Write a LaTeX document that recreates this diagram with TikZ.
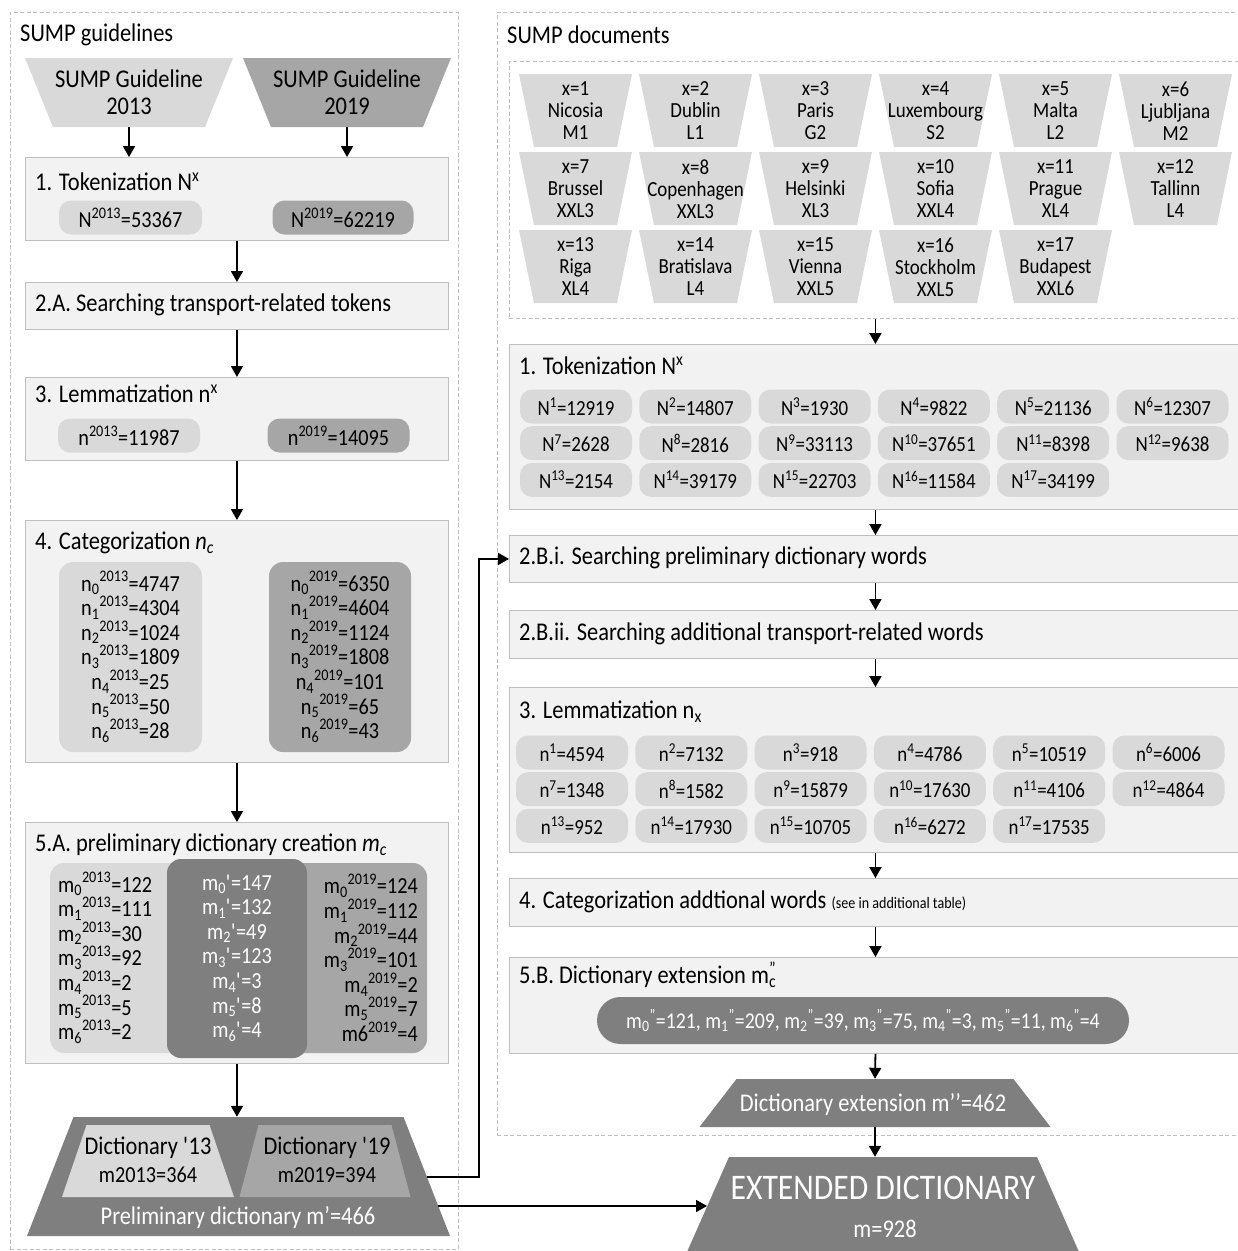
\documentclass[tikz,border=0pt]{standalone}
\usepackage{fontspec}
\setmainfont{Carlito}[FakeStretch=0.88]
\usetikzlibrary{arrows.meta,calc}
\definecolor{boxfill}{HTML}{F2F2F2}
\definecolor{boxline}{HTML}{BFBFBF}
\definecolor{gA}{HTML}{D9D9D9}
\definecolor{gB}{HTML}{A6A6A6}
\definecolor{gC}{HTML}{7F7F7F}
\definecolor{dashc}{HTML}{BFBFBF}
\newcommand\tpz[6]{\fill[#6] ({#1-#4},#2) -- ({#1+#4},#2) -- ({#1+#5},#3) -- ({#1-#5},#3) -- cycle;}
\newcommand\ssp[3]{#1\textsubscript{#2}\textsuperscript{#3}}
\begin{document}
\begin{tikzpicture}[x=1pt,y=-1pt,
  fA/.style={font=\fontsize{25.5}{27}\selectfont},
  fB/.style={font=\fontsize{23}{24.6}\selectfont},
  fC/.style={font=\fontsize{21.5}{22}\selectfont},
  panel/.style={draw=boxline, fill=boxfill, line width=0.9pt, inner sep=0pt, anchor=north west},
  pill/.style={rounded corners=12pt, inner sep=0pt, minimum height=34pt},
  bigbox/.style={rounded corners=14pt, inner sep=0pt},
  arr/.style={-{Triangle[length=11pt,width=12pt]}, line width=1.8pt},
  dashbox/.style={draw=dashc, dash pattern=on 4pt off 2.5pt, line width=0.8pt, inner sep=0pt, anchor=north west},
  lbl/.style={anchor=west, inner sep=0pt},
]
\useasboundingbox (0,0) rectangle (1238,1251);
\fill[white] (0,0) rectangle (1238,1251);

% ---------- dashed panels ----------
\node[dashbox, minimum width=448pt, minimum height=1237pt] (Lpanel) at (10,12) {};
\node[dashbox, minimum width=750pt, minimum height=1123pt] (Rpanel) at (497,12) {};
\node[dashbox, minimum width=740pt, minimum height=257pt] (docs) at (509,61) {};
\node[lbl, fA] (Ltitle) at (20,35) {SUMP guidelines};
\node[lbl, fA] (Rtitle) at (507,35) {SUMP documents};

% ---------- left column ----------
\tpz{129}{58}{127}{104}{76}{gA}
\node[fA, align=center, inner sep=0pt, minimum width=150pt, minimum height=69pt] (g13) at (129,92.5) {SUMP Guideline\\2013};
\tpz{347}{58}{127}{104}{76}{gB}
\node[fA, align=center, inner sep=0pt, minimum width=150pt, minimum height=69pt] (g19) at (347,92.5) {SUMP Guideline\\2019};

\node[panel, minimum width=423pt, minimum height=83pt] (tok1) at (25,157) {};
\node[lbl, fA] (tok1t) at (35,182) {1. Tokenization N\textsuperscript{x}};
\node[pill, fill=gA, fB, minimum width=143pt] (N13) at (130.5,217.5) {N\textsuperscript{2013}=53367};
\node[pill, fill=gB, fB, minimum width=141pt] (N19) at (343,217.5) {N\textsuperscript{2019}=62219};

\node[panel, minimum width=423pt, minimum height=47pt] (srA) at (25,282) {};
\node[lbl, fA] (srAt) at (35,305) {2.A. Searching transport-related tokens};

\node[panel, minimum width=423pt, minimum height=83pt] (lem1) at (25,377) {};
\node[lbl, fA] (lem1t) at (35,394) {3. Lemmatization n\textsuperscript{x}};
\node[pill, fill=gA, fB, minimum width=142pt] (n13) at (129,435.5) {n\textsuperscript{2013}=11987};
\node[pill, fill=gB, fB, minimum width=142pt] (n19) at (338.5,435.5) {n\textsuperscript{2019}=14095};

\node[panel, minimum width=423pt, minimum height=242pt] (cat1) at (25,520) {};
\node[lbl, fA] (cat1t) at (35,543) {4. Categorization \textit{n\textsubscript{c}}};
\node[bigbox, fill=gA, fB, align=center, minimum width=143pt, minimum height=190pt] (catL) at (130.5,657) {%
\ssp{n}{0}{2013}=4747\\\ssp{n}{1}{2013}=4304\\\ssp{n}{2}{2013}=1024\\\ssp{n}{3}{2013}=1809\\\ssp{n}{4}{2013}=25\\\ssp{n}{5}{2013}=50\\\ssp{n}{6}{2013}=28};
\node[bigbox, fill=gB, fB, align=center, minimum width=142pt, minimum height=190pt] (catR) at (340,657) {%
\ssp{n}{0}{2019}=6350\\\ssp{n}{1}{2019}=4604\\\ssp{n}{2}{2019}=1124\\\ssp{n}{3}{2019}=1808\\\ssp{n}{4}{2019}=101\\\ssp{n}{5}{2019}=65\\\ssp{n}{6}{2019}=43};

\node[panel, minimum width=423pt, minimum height=241pt] (pre1) at (25,822) {};
\node[lbl, fA] (pre1t) at (35,845) {5.A. preliminary dictionary creation \textit{m\textsubscript{c}}};
\node[bigbox, fill=gA, minimum width=250pt, minimum height=190pt] (m13box) at (175,958) {};
\node[bigbox, fill=gB, minimum width=247pt, minimum height=190pt] (m19box) at (303.5,958) {};
\node[bigbox, fill=gC, minimum width=140pt, minimum height=199pt] (mpbox) at (237,958.5) {};
\node[fB, align=left, anchor=west, inner sep=0pt] (m13t) at (58,958) {%
\ssp{m}{0}{2013}=122\\\ssp{m}{1}{2013}=111\\\ssp{m}{2}{2013}=30\\\ssp{m}{3}{2013}=92\\\ssp{m}{4}{2013}=2\\\ssp{m}{5}{2013}=5\\\ssp{m}{6}{2013}=2};
\node[fB, align=right, anchor=east, inner sep=0pt] (m19t) at (418,958) {%
\ssp{m}{0}{2019}=124\\\ssp{m}{1}{2019}=112\\\ssp{m}{2}{2019}=44\\\ssp{m}{3}{2019}=101\\\ssp{m}{4}{2019}=2\\\ssp{m}{5}{2019}=7\\m6\textsuperscript{2019}=4};
\node[fB, align=center, text=white, inner sep=0pt] (mpt) at (237,958) {%
m\textsubscript{0}\textquotesingle=147\\m\textsubscript{1}\textquotesingle=132\\m\textsubscript{2}\textquotesingle=49\\m\textsubscript{3}\textquotesingle=123\\m\textsubscript{4}\textquotesingle=3\\m\textsubscript{5}\textquotesingle=8\\m\textsubscript{6}\textquotesingle=4};

% preliminary dictionary trapezoid
\tpz{238.5}{1117}{1236}{165}{211.5}{gC}
\tpz{148}{1125}{1197}{61.5}{86}{gA}
\tpz{325}{1125}{1197}{66.5}{85.5}{gB}
\node[inner sep=0pt, minimum width=423pt, minimum height=119pt] (prelim) at (238.5,1176.5) {};
\node[fA, inner sep=0pt] (d13a) at (148,1148) {Dictionary \textquotesingle13};
\node[fB, inner sep=0pt] (d13b) at (148,1175) {m2013=364};
\node[fA, inner sep=0pt] (d19a) at (327,1148) {Dictionary \textquotesingle19};
\node[fB, inner sep=0pt] (d19b) at (327,1175) {m2019=394};
\node[fA, text=white, inner sep=0pt] (prelimt) at (238,1218) {Preliminary dictionary m’=466};
\coordinate (p1) at (426.5,1177);
\coordinate (p2) at (438,1206);

% ---------- right column ----------
\foreach \i/\nm/\sz [count=\k from 0] in {1/Nicosia/M1,2/Dublin/L1,3/Paris/G2,4/Luxembourg/S2,5/Malta/L2,6/Ljubljana/M2,7/Brussel/XXL3,8/Copenhagen/XXL3,9/Helsinki/XL3,10/Sofia/XXL4,11/Prague/XL4,12/Tallinn/L4,13/Riga/XL4,14/Bratislava/L4,15/Vienna/XXL5,16/Stockholm/XXL5,17/Budapest/XXL6}{
  \pgfmathtruncatemacro\col{mod(\k,6)}
  \pgfmathtruncatemacro\row{div(\k,6)}
  \pgfmathsetmacro\cx{575.5+120*\col}
  \pgfmathsetmacro\yt{74+78*\row}
  \tpz{\cx}{\yt}{\yt+73}{56.5}{41.5}{gA}
  \node[fC, align=center, inner sep=0pt] (city\i) at (\cx,\yt+37) {x=\i\\\nm\\\sz};
}

\node[panel, minimum width=732pt, minimum height=165pt] (tokR) at (509,344) {};
\node[lbl, fA] (tokRt) at (519,366) {1. Tokenization N\textsuperscript{x}};
\foreach \v [count=\j] in {12919,14807,1930,9822,21136,12307,2628,2816,33113,37651,8398,9638,2154,39179,22703,11584,34199}{
  \pgfmathtruncatemacro\col{mod(\j-1,6)}
  \pgfmathtruncatemacro\row{div(\j-1,6)}
  \node[pill, fill=gA, fC, minimum width=112pt] (Np\j) at ({576+119.3*\col},{406.5+36.7*\row}) {N\textsuperscript{\j}=\v};
}

\node[panel, minimum width=732pt, minimum height=47pt] (srB1) at (509,535) {};
\node[lbl, fA] (srB1t) at (519,558) {2.B.i. Searching preliminary dictionary words};
\node[panel, minimum width=732pt, minimum height=48pt] (srB2) at (509,610) {};
\node[lbl, fA] (srB2t) at (519,634) {2.B.ii. Searching additional transport-related words};

\node[panel, minimum width=732pt, minimum height=165pt] (lemR) at (509,687) {};
\node[lbl, fA] (lemRt) at (519,712) {3. Lemmatization n\textsubscript{x}};
\foreach \v [count=\j] in {4594,7132,918,4786,10519,6006,1348,1582,15879,17630,4106,4864,952,17930,10705,6272,17535}{
  \pgfmathtruncatemacro\col{mod(\j-1,6)}
  \pgfmathtruncatemacro\row{div(\j-1,6)}
  \node[pill, fill=gA, fC, minimum width=112pt] (np\j) at ({572+119.3*\col},{752.5+36.7*\row}) {n\textsuperscript{\j}=\v};
}

\node[panel, minimum width=732pt, minimum height=48pt] (catRb) at (509,878) {};
\node[lbl, fA] (catRt) at (519,902) {4. Categorization addtional words {\fontsize{16}{18}\selectfont (see in additional table)}};

\node[panel, minimum width=732pt, minimum height=96pt] (extR) at (509,957) {};
\node[lbl, fA] (extRt) at (519,975) {5.B. Dictionary extension m\rlap{\textsubscript{c}}\textsuperscript{"}};
\node[rounded corners=23.5pt, fill=gC, text=white, inner sep=0pt, minimum width=532pt, minimum height=47pt, font=\fontsize{22.5}{24}\selectfont] (mpp) at (863,1020.5) {%
\ssp{m}{0}{"}=121, \ssp{m}{1}{"}=209, \ssp{m}{2}{"}=39, \ssp{m}{3}{"}=75, \ssp{m}{4}{"}=3, \ssp{m}{5}{"}=11, \ssp{m}{6}{"}=4};

\tpz{875}{1079}{1127}{138.5}{175.5}{gC}
\node[inner sep=0pt, minimum width=351pt, minimum height=48pt] (ext) at (875,1103) {};
\node[fA, text=white, inner sep=0pt] (extt) at (873,1105) {Dictionary extension m’’=462};

\tpz{883}{1157}{1270}{154}{204}{gC}
\node[inner sep=0pt, minimum width=308pt, minimum height=94pt] (extd) at (883,1204) {};
\node[text=white, inner sep=0pt, font=\fontsize{36}{40}\selectfont] (extdt) at (883,1188) {EXTENDED DICTIONARY};
\node[fA, text=white, inner sep=0pt] (extdm) at (885,1229) {m=928};
\coordinate (e1) at (707,1206);

% ---------- arrows ----------
\draw[arr] (g13.south) -- (g13.south |- tok1.north);
\draw[arr] (g19.south) -- (g19.south |- tok1.north);
\draw[arr] (tok1.south) -- (srA.north);
\draw[arr] (srA.south) -- (lem1.north);
\draw[arr] (lem1.south) -- (cat1.north);
\draw[arr] (cat1.south) -- (pre1.north);
\draw[arr] (pre1.south) -- (pre1.south |- prelim.north);
\draw[arr] (tokR.north |- docs.south) -- (tokR.north);
\draw[arr] (tokR.south) -- (srB1.north);
\draw[arr] (srB1.south) -- (srB2.north);
\draw[arr] (srB2.south) -- (lemR.north);
\draw[arr] (lemR.south) -- (catRb.north);
\draw[arr] (catRb.south) -- (extR.north);
\draw[arr] (extR.south) -- (ext.north);
\draw[arr] (ext.south) -- (ext.south |- extd.north);
\draw[arr] (p1) -| ($(srB1.west)+(-30,0)$) -- (srB1.west);
\draw[arr] (p2) -- (e1);
\end{tikzpicture}
\end{document}
